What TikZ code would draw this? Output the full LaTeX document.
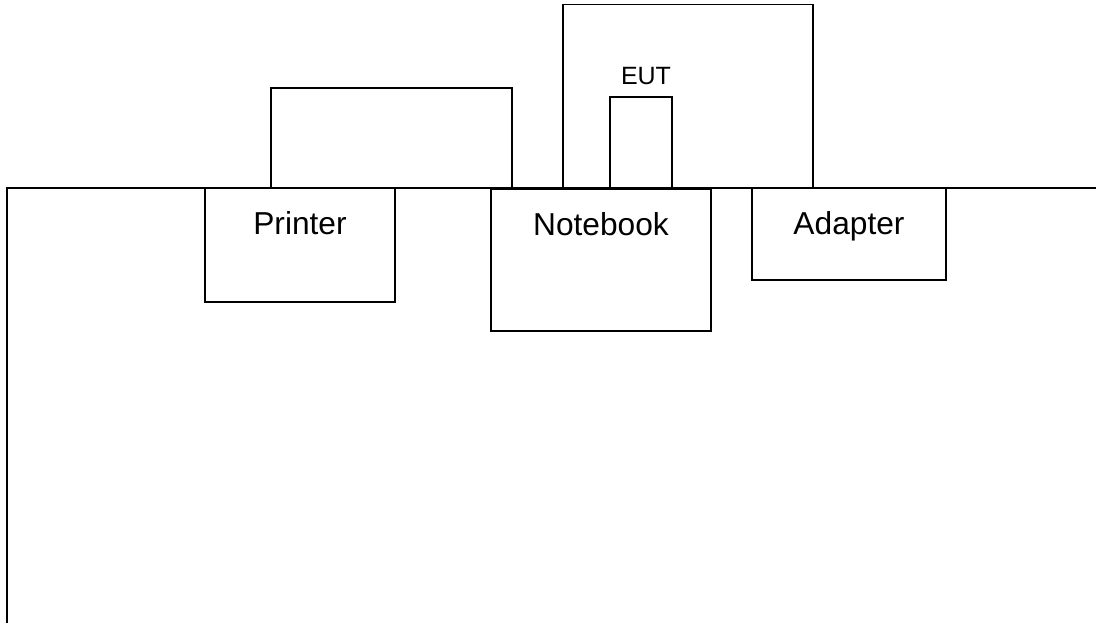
\documentclass[tikz,border=0pt]{standalone}
\usepackage{fontspec}
\setmainfont{Liberation Sans}
\begin{document}
\begin{tikzpicture}[x=1pt,y=-1pt,
  line width=1.6pt,
  box/.style={draw, rectangle, inner sep=0pt, line width=1.6pt},
  lbl/.style={anchor=base, inner sep=0pt, font=\fontsize{31.7}{36}\selectfont},
  small/.style={anchor=base, inner sep=0pt, font=\fontsize{25}{30}\selectfont},
  cable/.style={draw, line width=1.6pt}]
\useasboundingbox (0,0) rectangle (1096,623);
% table
\coordinate (tl) at (7,623);
\coordinate (tc) at (7,188);
\coordinate (tr) at (1096,188);
\draw (tl) -- (tc) -- (tr);
% boxes
\node[box, minimum width=190pt, minimum height=114pt] (printer) at (300,245) {};
\node[box, minimum width=220pt, minimum height=142pt] (notebook) at (601,260) {};
\node[box, minimum width=194pt, minimum height=92pt] (adapter) at (849,234) {};
\node[box, minimum width=62pt, minimum height=92pt] (eut) at (641,143) {};
% labels
\node[lbl] (printerlbl) at (300,235) {Printer};
\node[lbl] (notebooklbl) at (601,236) {Notebook};
\node[lbl] (adapterlbl) at (849,234) {Adapter};
\node[small] (eutlbl) at (646,85) {EUT};
% cables
\coordinate (pc1) at (271,188);
\coordinate (pc2) at (512,188);
\draw[cable] (pc1) -- (271,88) -- (512,88) -- (pc2);
\coordinate (ac1) at (563,188);
\coordinate (ac2) at (813,188);
\draw[cable] (ac1) -- (563,4.5) -- (813,4.5) -- (ac2);
\end{tikzpicture}
\end{document}
